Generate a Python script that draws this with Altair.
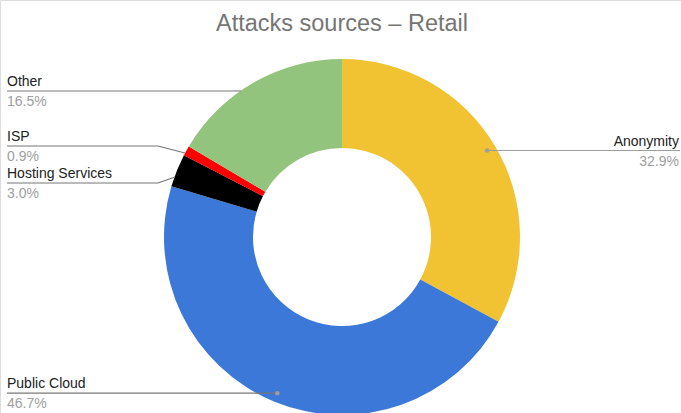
import math
import altair as alt
import pandas as pd

# ---- data ----
names = ["Anonymity", "Public Cloud", "Hosting Services", "ISP", "Other"]
values = [32.9, 46.7, 3.0, 0.9, 16.5]
pct_labels = ["32.9%", "46.7%", "3.0%", "0.9%", "16.5%"]
colors = ["#F1C232", "#3C78D8", "#000000", "#FF0000", "#93C47D"]
title_text = "Attacks sources – Retail"

# ---- layout ----
W, H = 681, 413
CX, CY, R_OUT, R_IN = 342, 237, 178, 89
R_DOT = 169
FONT = "Liberation Sans"

df = pd.DataFrame({"name": names, "value": values, "order": list(range(len(names)))})

pie = alt.Chart(df).mark_arc(outerRadius=R_OUT, innerRadius=R_IN).encode(
    theta=alt.Theta("value:Q", stack=True),
    order=alt.Order("order:Q"),
    color=alt.Color("name:N", scale=alt.Scale(domain=names, range=colors), legend=None),
    x=alt.value(CX),
    y=alt.value(CY),
)

# mid-angle anchor points computed from the values
total = sum(values)
cum = 0.0
anchors = {}
for n, v in zip(names, values):
    mid = (cum + v / 2) / total * 2 * math.pi
    anchors[n] = (CX + R_DOT * math.sin(mid), CY - R_DOT * math.cos(mid))
    cum += v

ax, ay = anchors["Anonymity"]
px, py = anchors["Public Cloud"]

# leader line segments (layout)
segs = pd.DataFrame([
    {"x": ax, "y": ay, "x2": 680, "y2": ay, "c": "#9E9E9E"},
    {"x": 7, "y": py, "x2": px, "y2": py, "c": "#777777"},
    {"x": 7, "y": 91, "x2": 241, "y2": 91, "c": "#777777"},
    {"x": 7, "y": 146, "x2": 158, "y2": 146, "c": "#777777"},
    {"x": 158, "y": 146, "x2": 185, "y2": 153, "c": "#777777"},
    {"x": 7, "y": 183, "x2": 158, "y2": 183, "c": "#777777"},
    {"x": 158, "y": 183, "x2": 175, "y2": 177, "c": "#777777"},
])
rules = alt.Chart(segs).mark_rule(strokeWidth=1.2).encode(
    x=alt.X("x:Q", scale=None), y=alt.Y("y:Q", scale=None),
    x2="x2:Q", y2="y2:Q",
    color=alt.Color("c:N", scale=None),
)

dots_df = pd.DataFrame({"x": [ax, px], "y": [ay, py]})
dots = alt.Chart(dots_df).mark_circle(size=20, color="#9E9E9E", opacity=1).encode(
    x=alt.X("x:Q", scale=None), y=alt.Y("y:Q", scale=None)
)

# label positions (layout)
line_y = {"Anonymity": ay, "Public Cloud": py, "Other": 91, "ISP": 146, "Hosting Services": 183}
lab = pd.DataFrame({
    "name": names,
    "pct": pct_labels,
    "x": [679 if n == "Anonymity" else 7 for n in names],
    "ly": [line_y[n] for n in names],
    "right": [n == "Anonymity" for n in names],
})
lab["ny"] = lab["ly"] - 5
lab["py"] = lab["ly"] + 15

def text_layers(sub, align):
    base = alt.Chart(sub)
    t1 = base.mark_text(align=align, baseline="alphabetic", font=FONT, fontSize=14, color="#222222").encode(
        x=alt.X("x:Q", scale=None), y=alt.Y("ny:Q", scale=None), text="name:N")
    t2 = base.mark_text(align=align, baseline="alphabetic", font=FONT, fontSize=14, color="#9E9E9E").encode(
        x=alt.X("x:Q", scale=None), y=alt.Y("py:Q", scale=None), text="pct:N")
    return [t1, t2]

left_layers = text_layers(lab[~lab["right"]], "left")
right_layers = text_layers(lab[lab["right"]], "right")

title = alt.Chart(pd.DataFrame({"t": [title_text]})).mark_text(
    align="center", baseline="alphabetic", font=FONT, fontSize=23.5, color="#757575"
).encode(x=alt.value(342), y=alt.value(31), text="t:N")

chart = alt.layer(pie, rules, dots, *left_layers, *right_layers, title).properties(
    width=W, height=H, autosize=alt.AutoSizeParams(type="none"), padding=0
).configure_view(stroke=None).configure(background="white")

chart.save("out.html", embed_options={"renderer": "svg", "actions": False})
